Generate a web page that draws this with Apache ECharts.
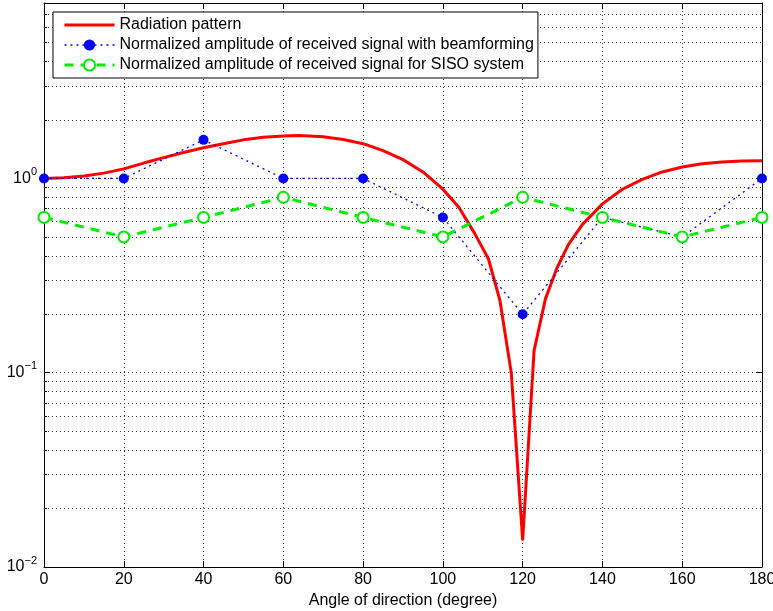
<!DOCTYPE html>
<html>
<head>
<meta charset="utf-8">
<script src="https://cdn.jsdelivr.net/npm/echarts@6/dist/echarts.min.js"></script>
<style>
html,body{margin:0;padding:0;background:#fff;}
#chart{width:773px;height:611px;}
</style>
</head>
<body>
<div id="chart"></div>
<script>
// ---- data ----
const angles = [0, 20, 40, 60, 80, 100, 120, 140, 160, 180];
const beamforming = [1.0, 1.0, 1.58, 1.0, 1.0, 0.63, 0.2, 0.63, 0.5, 1.0];
const siso = [0.63, 0.5, 0.63, 0.8, 0.63, 0.5, 0.8, 0.63, 0.5, 0.63];
const radAngles = [0, 5, 10, 15, 20, 25, 30, 35, 40, 45, 50, 55, 60, 64, 70, 75, 80, 85, 90, 95, 100, 104, 108, 111.43, 114.29, 117.14, 120, 122.86, 125.71, 128.57, 131.43, 135, 140, 145, 150, 155, 160, 165, 170, 175, 180];
const radValues = [1.0, 1.008, 1.03, 1.065, 1.12, 1.2, 1.28, 1.36, 1.44, 1.51, 1.58, 1.63, 1.655, 1.665, 1.64, 1.585, 1.51, 1.39, 1.25, 1.08, 0.88, 0.71, 0.52, 0.385, 0.236, 0.1, 0.0137, 0.13, 0.24, 0.345, 0.455, 0.58, 0.74, 0.88, 0.99, 1.08, 1.145, 1.19, 1.215, 1.228, 1.232];
const minorGrid = [0.02,0.03,0.04,0.05,0.06,0.07,0.08,0.09,0.2,0.3,0.4,0.5,0.6,0.7,0.8,0.9,2,3,4,5,6,7];
const seriesNames = ['Radiation pattern', 'Normalized amplitude of received signal with beamforming', 'Normalized amplitude of received signal for SISO system'];
const xLabel = 'Angle of direction (degree)';
const xMin = 0, xMax = 180, xStep = 20;
const yMin = 0.01, yMax = 8;

const font = '"Liberation Sans", Arial, Helvetica, sans-serif';
const dotted = { color: '#333', width: 1, type: [1, 3] };

function yFmt(v) {
  const l = Math.log10(v);
  const e = Math.round(l);
  if (Math.abs(l - e) > 1e-6) return '';
  const es = e < 0 ? '\u2212' + (-e) : String(e);
  return '{b|10}{s|' + es + '}';
}

const chart = echarts.init(document.getElementById('chart'), null, { renderer: 'canvas' });
const option = {
  animation: false,
  backgroundColor: '#fff',
  textStyle: { fontFamily: font },
  grid: { left: 44, right: 11, top: 3, bottom: 44, containLabel: false, outerBoundsMode: 'none' },
  legend: {
    data: [
      { name: seriesNames[0], itemStyle: { opacity: 0, borderWidth: 0 } },
      { name: seriesNames[1] },
      { name: seriesNames[2] }
    ],
    orient: 'vertical',
    left: 53, top: 12,
    padding: [5, 4, 5, 10],
    itemWidth: 50, itemHeight: 14, itemGap: 4,
    backgroundColor: '#fff',
    borderColor: '#000', borderWidth: 1,
    lineStyle: { width: 'inherit' },
    textStyle: { fontFamily: font, fontSize: 16, color: '#000', lineHeight: 16 },
    z: 10
  },
  xAxis: [{
    type: 'value', min: xMin, max: xMax, interval: xStep,
    name: xLabel, nameLocation: 'middle', nameGap: 25,
    nameTextStyle: { fontFamily: font, fontSize: 16, color: '#000' },
    axisLine: { show: true, onZero: false, lineStyle: { color: '#000', width: 1 } },
    axisTick: { show: true, inside: true, length: 6, lineStyle: { color: '#000' } },
    axisLabel: { fontFamily: font, fontSize: 16, color: '#000', margin: 5 },
    splitLine: { show: true, lineStyle: dotted }
  }, {
    type: 'value', min: xMin, max: xMax, interval: xStep, position: 'top',
    axisLine: { show: true, onZero: false, lineStyle: { color: '#000', width: 1 } },
    axisTick: { show: true, inside: true, length: 6, lineStyle: { color: '#000' } },
    axisLabel: { show: false },
    splitLine: { show: false }
  }],
  yAxis: [{
    type: 'log', min: yMin, max: yMax, logBase: 10,
    axisLine: { show: true, onZero: false, lineStyle: { color: '#000', width: 1 } },
    axisTick: { show: true, inside: true, length: 6, lineStyle: { color: '#000' } },
    minorTick: { show: true, splitNumber: 9, length: 3, lineStyle: { color: '#000' } },
    axisLabel: {
      margin: 7, formatter: yFmt,
      rich: {
        b: { fontFamily: font, fontSize: 16, color: '#000', lineHeight: 24, verticalAlign: 'middle' },
        s: { fontFamily: font, fontSize: 11, color: '#000', lineHeight: 10, verticalAlign: 'top' }
      }
    },
    splitLine: { show: true, lineStyle: dotted }
  }, {
    type: 'log', min: yMin, max: yMax, logBase: 10, position: 'right',
    axisLine: { show: true, onZero: false, lineStyle: { color: '#000', width: 1 } },
    axisTick: { show: true, inside: true, length: 6, lineStyle: { color: '#000' } },
    axisLabel: { show: false },
    splitLine: { show: false }
  }],
  series: [
    {
      name: '_grid', type: 'line', data: [], z: 1, silent: true,
      markLine: {
        silent: true, symbol: 'none', animation: false,
        label: { show: false },
        lineStyle: dotted,
        emphasis: { disabled: true },
        data: minorGrid.map(v => ({ yAxis: v }))
      }
    },
    {
      name: seriesNames[0], type: 'line', z: 3,
      data: radAngles.map((a, i) => [a, radValues[i]]),
      showSymbol: false, symbol: 'none',
      lineStyle: { color: '#ff0000', width: 3 },
      itemStyle: { color: '#ff0000' }
    },
    {
      name: seriesNames[1], type: 'line', z: 4,
      data: angles.map((a, i) => [a, beamforming[i]]),
      symbol: 'circle', symbolSize: 10,
      lineStyle: { color: '#0000ff', width: 1.3, type: [2, 4] },
      itemStyle: { color: '#0000ff' }
    },
    {
      name: seriesNames[2], type: 'line', z: 5,
      data: angles.map((a, i) => [a, siso[i]]),
      symbol: 'emptyCircle', symbolSize: 11,
      lineStyle: { color: '#00ee00', width: 3, type: [9, 7] },
      itemStyle: { color: '#00ee00', borderColor: '#00ee00', borderWidth: 2.5 }
    }
  ]
};
chart.setOption(option);
</script>
</body>
</html>
